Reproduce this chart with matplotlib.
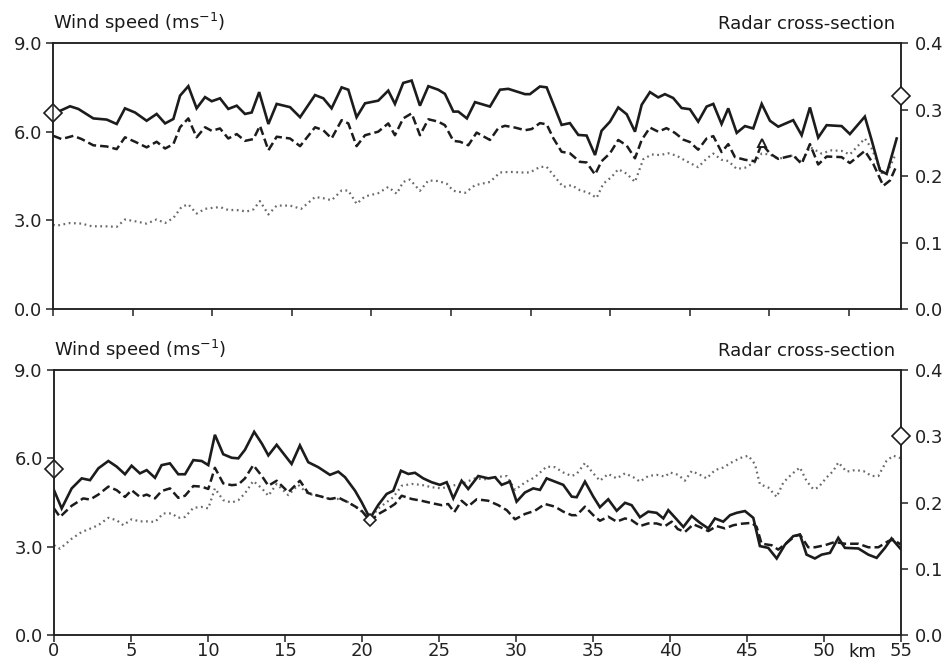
"""Wind speed / radar cross-section profiles along two flight tracks."""

import matplotlib
matplotlib.use('Agg')
import matplotlib.pyplot as plt

plt.rcParams.update({
    'font.family': ['DejaVu Sans'],
    'mathtext.fontset': 'dejavusans',
    'axes.edgecolor': '#222222',
    'axes.linewidth': 1.1,
    'xtick.color': '#222222',
    'ytick.color': '#222222',
    'text.color': '#1a1a1a',
})

INK = '#1c1c1c'
DOT = '#6a6a6a'
FS = 13

# ---- top panel (km, wind speed m/s) ----
top_solid_km = [0.0, 0.5, 1.07, 1.59, 2.53, 3.37, 4.0, 4.52, 5.15, 5.88, 6.51, 7.04, 7.56, 7.98, 8.5,
                9.02, 9.55, 9.97, 10.49, 11.01, 11.54, 12.06, 12.48, 12.95, 13.53, 14.05, 14.89, 15.52,
                16.46, 16.98, 17.5, 18.13, 18.55, 19.07, 19.6, 20.43, 21.06, 21.48, 22.0, 22.53, 23.05,
                23.58, 24.2, 24.62, 25.15, 25.46, 26.0, 26.51, 27.45, 28.08, 28.6, 29.65, 29.96, 30.59,
                31.01, 31.53, 31.95, 32.47, 33.0, 33.52, 34.05, 34.46, 34.99, 35.51, 36.04, 36.56, 36.98,
                37.5, 38.02, 38.44, 38.96, 39.49, 40.01, 40.53, 41.06, 41.48, 42.0, 42.42, 42.95, 43.47,
                43.99, 44.52, 45.04, 45.56, 46.5, 47.03, 47.55, 48.07, 48.6, 49.54, 50.06, 51.0, 51.43,
                51.95, 52.37, 53.0]
top_solid = [6.62, 6.72, 6.86, 6.77, 6.45, 6.41, 6.26, 6.79, 6.65, 6.37, 6.60, 6.28, 6.43, 7.22, 7.54,
             6.79, 7.17, 7.03, 7.13, 6.77, 6.88, 6.60, 6.65, 7.34, 6.26, 6.94, 6.83, 6.49,
             7.24, 7.13, 6.79, 7.50, 7.42, 6.49, 6.96, 7.05, 7.39, 6.94, 7.65, 7.73, 6.88,
             7.54, 7.42, 7.28, 6.68, 6.68, 6.45, 7.00, 6.85, 7.42, 7.45, 7.27, 7.27, 7.53,
             7.50, 6.80, 6.23, 6.29, 5.89, 5.87, 5.21, 6.03, 6.34, 6.82, 6.59, 6.00, 6.91,
             7.34, 7.16, 7.27, 7.14, 6.80, 6.76, 6.34, 6.85, 6.94, 6.26, 6.79, 5.96, 6.19,
             6.11, 6.94, 6.37, 6.17, 6.39, 5.88, 6.82, 5.80, 6.22, 6.19, 5.92, 6.51, 5.71,
             4.69, 4.57, 5.77]

top_dash_km = [0.02, 0.54, 1.28, 1.8, 2.53, 3.37, 4.0, 4.52, 5.15, 5.88, 6.51, 7.04, 7.56, 7.98, 8.5,
               9.02, 9.55, 9.97, 10.49, 11.01, 11.54, 12.06, 12.59, 13.0, 13.53, 14.05, 14.89, 15.52,
               16.46, 16.98, 17.5, 18.13, 18.55, 19.07, 19.6, 20.43, 21.06, 21.48, 22.0, 22.53, 23.05,
               23.58, 24.2, 24.62, 25.15, 25.57, 26.09, 26.61, 27.45, 27.97, 28.39, 29.02, 29.65, 30.07,
               30.59, 31.01, 31.43, 31.95, 32.47, 33.1, 33.52, 34.05, 34.46, 34.99, 35.51, 36.04, 36.56,
               36.98, 37.5, 38.02, 38.54, 39.07, 39.6, 40.01, 40.53, 41.06, 41.48, 42.0, 42.42, 42.84,
               43.47, 44.1, 44.52, 45.04, 45.56, 46.5, 47.03, 47.55, 48.07, 48.6, 49.54, 50.06, 51.0,
               51.53, 52.16, 52.58, 53.0]
top_dash = [5.86, 5.75, 5.86, 5.75, 5.54, 5.50, 5.41, 5.81, 5.66, 5.47, 5.66, 5.43, 5.58, 6.15, 6.45,
            5.81, 6.15, 6.03, 6.11, 5.77, 5.92, 5.69, 5.75, 6.20, 5.37, 5.83, 5.77, 5.51,
            6.15, 6.05, 5.77, 6.39, 6.28, 5.51, 5.88, 6.00, 6.28, 5.88, 6.45, 6.62, 5.88,
            6.42, 6.34, 6.22, 5.69, 5.66, 5.54, 5.97, 5.72, 6.12, 6.20, 6.14, 6.05, 6.09,
            6.29, 6.25, 5.78, 5.32, 5.27, 4.98, 4.96, 4.55, 5.00, 5.27, 5.72, 5.53, 5.10,
            5.72, 6.14, 6.00, 6.12, 5.96, 5.73, 5.65, 5.39, 5.77, 5.85, 5.31, 5.58, 5.14,
            5.05, 5.00, 5.60, 5.26, 5.08, 5.20, 4.91, 5.58, 4.89, 5.16, 5.14, 4.94, 5.35,
            4.91, 4.17, 4.35, 4.86]

top_dot_km = [0.0, 0.23, 1.07, 1.8, 2.43, 3.27, 4.0, 4.52, 5.15, 5.88, 6.51, 7.04, 7.56, 8.08, 8.5,
              9.02, 9.55, 9.97, 10.49, 11.01, 11.54, 12.17, 12.59, 13.0, 13.53, 14.05, 14.89, 15.59,
              16.46, 16.98, 17.5, 18.13, 18.55, 19.07, 19.6, 20.43, 21.06, 21.59, 22.0, 22.42, 23.05,
              23.58, 24.2, 24.73, 25.15, 25.88, 26.51, 27.45, 28.08, 28.71, 29.44, 29.96, 30.59, 31.01,
              31.53, 32.05, 32.58, 33.1, 33.62, 34.15, 34.57, 35.09, 35.51, 36.04, 36.56, 37.08, 37.61,
              38.13, 38.65, 39.17, 39.66, 40.01, 40.53, 41.06, 41.48, 42.0, 42.42, 42.95, 43.47, 44.1,
              44.52, 45.04, 45.56, 46.5, 47.03, 47.55, 48.28, 48.91, 49.54, 50.06, 51.0, 51.43, 52.06,
              52.48, 52.9]
top_dot = [2.85, 2.82, 2.91, 2.89, 2.80, 2.80, 2.78, 3.03, 2.97, 2.89, 3.03, 2.91, 3.08, 3.46, 3.54,
           3.23, 3.39, 3.42, 3.45, 3.35, 3.35, 3.30, 3.37, 3.65, 3.20, 3.50, 3.50, 3.39,
           3.79, 3.75, 3.68, 4.01, 4.01, 3.56, 3.81, 3.92, 4.13, 3.90, 4.30, 4.38, 4.00,
           4.35, 4.33, 4.24, 4.00, 3.93, 4.19, 4.30, 4.62, 4.64, 4.62, 4.62, 4.81, 4.81,
           4.47, 4.13, 4.19, 4.02, 3.94, 3.76, 4.24, 4.47, 4.73, 4.58, 4.30, 5.07, 5.23,
           5.21, 5.27, 5.19, 5.04, 4.94, 4.80, 5.09, 5.26, 5.05, 5.01, 4.74, 4.78, 4.97,
           5.26, 5.23, 5.08, 5.20, 4.97, 5.48, 5.26, 5.37, 5.35, 5.23, 5.77, 5.43, 4.60,
           4.69, 5.20]

# ---- bottom panel (km, wind speed m/s) ----
bot_solid_km = [0.0, 0.5, 1.15, 1.8, 2.34, 2.88, 3.53, 4.07, 4.61, 5.04, 5.58, 6.02, 6.56, 6.99, 7.53,
                8.07, 8.51, 9.05, 9.59, 10.02, 10.45, 10.99, 11.54, 11.97, 12.4, 13.0, 13.5, 13.92,
                14.46, 15.43, 15.97, 16.51, 17.16, 17.92, 18.46, 18.9, 19.55, 19.98, 20.52, 21.06, 21.6,
                22.03, 22.53, 23.01, 23.44, 23.98, 24.52, 25.06, 25.5, 25.93, 26.47, 26.9, 27.55, 28.2,
                28.64, 29.07, 29.61, 30.04, 30.58, 31.12, 31.56, 31.99, 32.53, 33.07, 33.62, 33.94, 34.48,
                35.02, 35.45, 35.99, 36.54, 37.08, 37.51, 38.05, 38.59, 39.13, 39.57, 39.89, 40.43, 40.87,
                41.41, 41.95, 42.49, 42.92, 43.46, 43.9, 44.33, 44.87, 45.41, 45.84, 46.38, 46.93, 47.47,
                48.01, 48.44, 48.87, 49.41, 49.85, 50.39, 50.93, 51.36, 52.23, 52.88, 53.42, 53.96, 54.39,
                55.0]
bot_solid = [4.92, 4.30, 4.98, 5.32, 5.26, 5.66, 5.91, 5.72, 5.46, 5.75, 5.49, 5.60, 5.34, 5.77, 5.83,
             5.46, 5.46, 5.94, 5.91, 5.77, 6.80, 6.14, 6.02, 6.00, 6.29, 6.90, 6.50, 6.10,
             6.46, 5.81, 6.44, 5.87, 5.70, 5.44, 5.55, 5.36, 4.90, 4.51, 3.96, 4.42, 4.79,
             4.90, 5.58, 5.47, 5.51, 5.32, 5.19, 5.10, 5.19, 4.64, 5.24, 4.96, 5.40, 5.32,
             5.36, 5.10, 5.21, 4.53, 4.84, 4.98, 4.93, 5.32, 5.21, 5.10, 4.70, 4.68, 5.21,
             4.70, 4.34, 4.61, 4.22, 4.49, 4.41, 4.00, 4.19, 4.15, 3.96, 4.24, 3.93, 3.67,
             4.04, 3.81, 3.62, 3.96, 3.85, 4.07, 4.15, 4.21, 3.98, 3.02, 2.96, 2.60, 3.07,
             3.36, 3.41, 2.73, 2.60, 2.73, 2.79, 3.30, 2.96, 2.94, 2.73, 2.62, 2.96, 3.28,
             2.91]

bot_dash_km = [0.0, 0.39, 1.15, 1.9, 2.34, 2.88, 3.53, 4.07, 4.61, 5.04, 5.58, 6.02, 6.56, 6.99, 7.53,
               8.07, 8.51, 9.05, 9.59, 10.02, 10.45, 10.99, 11.54, 11.97, 12.4, 12.94, 13.5, 13.92,
               14.46, 15.22, 15.97, 16.51, 17.16, 17.92, 18.46, 19.0, 19.55, 19.98, 20.52, 21.17, 21.71,
               22.14, 22.58, 23.23, 23.87, 24.52, 25.17, 25.6, 25.99, 26.47, 26.9, 27.45, 28.2, 28.85,
               29.4, 29.94, 30.58, 31.23, 31.88, 32.53, 33.07, 33.62, 33.94, 34.48, 35.02, 35.45, 35.99,
               36.54, 37.08, 37.51, 38.05, 38.59, 39.13, 39.68, 40.11, 40.5, 40.97, 41.52, 42.06, 42.49,
               43.03, 43.57, 44.12, 44.66, 45.31, 45.63, 45.95, 46.6, 47.03, 47.58, 48.12, 48.44, 48.98,
               49.41, 50.06, 50.71, 51.36, 52.23, 52.88, 53.53, 54.18, 54.5, 55.0]
bot_dash = [4.30, 4.01, 4.39, 4.64, 4.60, 4.77, 5.04, 4.92, 4.69, 4.92, 4.69, 4.77, 4.64, 4.89, 4.98,
            4.66, 4.73, 5.06, 5.04, 4.96, 5.68, 5.15, 5.09, 5.11, 5.32, 5.77, 5.40, 5.07,
            5.24, 4.85, 5.24, 4.82, 4.73, 4.62, 4.67, 4.53, 4.37, 4.22, 3.88, 4.14, 4.30,
            4.45, 4.73, 4.62, 4.56, 4.48, 4.41, 4.45, 4.17, 4.56, 4.37, 4.61, 4.56, 4.41,
            4.24, 3.93, 4.11, 4.22, 4.45, 4.36, 4.19, 4.07, 4.07, 4.36, 4.07, 3.88, 4.02,
            3.85, 3.96, 3.90, 3.70, 3.79, 3.79, 3.70, 3.85, 3.60, 3.50, 3.76, 3.64, 3.53,
            3.70, 3.62, 3.73, 3.78, 3.81, 3.67, 3.10, 3.05, 2.90, 3.13, 3.36, 3.41, 2.98,
            2.98, 3.05, 3.16, 3.10, 3.10, 2.98, 2.98, 3.19, 3.24, 3.07]

bot_dot_km = [0.0, 0.39, 1.15, 1.8, 2.34, 2.88, 3.53, 4.07, 4.5, 5.04, 5.58, 6.02, 6.56, 7.1, 7.64,
              8.07, 8.51, 9.05, 9.59, 10.02, 10.45, 10.99, 11.54, 11.97, 12.4, 12.94, 13.5, 13.92,
              14.46, 15.22, 15.86, 16.51, 17.16, 17.92, 18.57, 19.11, 19.55, 19.98, 20.52, 21.06, 21.6,
              22.03, 22.58, 23.23, 23.87, 24.52, 25.17, 25.82, 26.47, 27.34, 27.99, 28.64, 29.4, 29.94,
              30.58, 31.23, 31.99, 32.53, 33.07, 33.62, 33.94, 34.48, 35.02, 35.45, 35.99, 36.54, 37.08,
              37.62, 38.05, 38.59, 39.13, 39.68, 40.0, 40.54, 40.97, 41.41, 41.95, 42.38, 42.92, 43.46,
              44.0, 44.55, 45.09, 45.52, 45.84, 46.38, 46.93, 47.36, 47.9, 48.44, 48.87, 49.31, 49.63,
              50.17, 50.6, 50.93, 51.47, 52.01, 52.56, 53.1, 53.53, 54.07, 54.5, 54.94]
bot_dot = [3.05, 2.93, 3.27, 3.50, 3.61, 3.73, 3.98, 3.90, 3.73, 3.93, 3.86, 3.86, 3.84, 4.13, 4.13,
           3.98, 4.01, 4.32, 4.35, 4.30, 4.98, 4.58, 4.50, 4.58, 4.81, 5.23, 4.98, 4.73,
           5.13, 4.75, 5.10, 4.79, 4.73, 4.62, 4.62, 4.51, 4.37, 4.19, 3.94, 4.30, 4.51,
           4.68, 5.07, 5.13, 5.10, 5.02, 4.98, 5.07, 5.13, 5.32, 5.29, 5.36, 5.40, 4.93,
           5.18, 5.36, 5.72, 5.70, 5.52, 5.40, 5.47, 5.84, 5.49, 5.24, 5.47, 5.32, 5.49,
           5.36, 5.21, 5.40, 5.44, 5.38, 5.52, 5.44, 5.24, 5.57, 5.44, 5.32, 5.60, 5.69,
           5.86, 6.01, 6.09, 5.80, 5.12, 5.01, 4.69, 5.18, 5.46, 5.69, 5.23, 4.95, 5.01,
           5.35, 5.57, 5.86, 5.55, 5.60, 5.57, 5.40, 5.40, 5.92, 6.09, 6.01]

# calibration markers: (km, wind) on the left scale, (km, radar) on the right scale
top_diamond_wind = (0.0, 6.62)
top_diamond_radar = (53.27, 0.32)
top_triangle = (44.52, 5.62)
bot_diamond_wind = [(0.0, 5.65), (20.55, 3.9)]
bot_diamond_radar = (55.0, 0.30)

WIND_TICKS = [0.0, 3.0, 6.0, 9.0]
RADAR_TICKS = [0.0, 0.1, 0.2, 0.3, 0.4]
KM_TICKS = list(range(0, 56, 5))


def _style(ax, xmax, labels):
    ax.set_xlim(0, xmax)
    ax.set_ylim(0, 9)
    ax.set_yticks(WIND_TICKS)
    ax.set_yticklabels([f'{v:.1f}' for v in WIND_TICKS], fontsize=FS)
    ax.set_xticks([t for t in KM_TICKS if t <= xmax])
    if labels:
        ax.set_xticklabels([str(t) for t in KM_TICKS if t <= xmax], fontsize=FS)
    else:
        ax.set_xticklabels([])
    ax.tick_params(direction='out', length=5, width=1.1, pad=3)
    ax.tick_params(axis='x', pad=0)
    ax.annotate(r'Wind speed (ms$^{\mathrm{-1}}$)', xy=(0, 1), xycoords='axes fraction',
                xytext=(0, 10), textcoords='offset points', ha='left', va='baseline',
                fontsize=FS)
    ax.annotate('Radar cross-section', xy=(1, 1), xycoords='axes fraction',
                xytext=(-4, 10), textcoords='offset points', ha='right', va='baseline',
                fontsize=FS)
    tw = ax.twinx()
    tw.set_ylim(0, 0.4)
    tw.set_yticks(RADAR_TICKS)
    tw.set_yticklabels([f'{v:.1f}' for v in RADAR_TICKS], fontsize=FS)
    tw.tick_params(direction='out', length=5, width=1.1, pad=5)
    return tw


def _lines(ax, s_km, s, d_km, d, p_km, p):
    ax.plot(s_km, s, color=INK, lw=1.9, solid_joinstyle='miter', zorder=4)
    ax.plot(d_km, d, color=INK, lw=1.8, linestyle=(0, (3.4, 1.6)), zorder=3)
    ax.plot(p_km, p, color=DOT, lw=1.6, linestyle=(0, (0.8, 1.6)), zorder=2)


fig = plt.figure(figsize=(9.52, 6.63), dpi=100, facecolor='white')
ax1 = fig.add_axes([0.0557, 0.5339, 0.8907, 0.4012])
ax2 = fig.add_axes([0.0567, 0.0422, 0.8897, 0.3997])

_lines(ax1, top_solid_km, top_solid, top_dash_km, top_dash, top_dot_km, top_dot)
tw1 = _style(ax1, 53.27, labels=False)
ax1.plot(*top_diamond_wind, marker='D', ms=9, mfc='white', mec=INK, mew=1.2, clip_on=False, zorder=6)
ax1.plot(*top_triangle, marker='^', ms=6, mfc='white', mec=INK, mew=1.4, zorder=6)
tw1.plot(*top_diamond_radar, marker='D', ms=9, mfc='white', mec=INK, mew=1.2, clip_on=False, zorder=6)

_lines(ax2, bot_solid_km, bot_solid, bot_dash_km, bot_dash, bot_dot_km, bot_dot)
tw2 = _style(ax2, 55.0, labels=True)
for km, w in bot_diamond_wind:
    size = 9 if km == 0 else 6
    ax2.plot(km, w, marker='D', ms=size, mfc='white', mec=INK, mew=1.2, clip_on=False, zorder=6)
tw2.plot(*bot_diamond_radar, marker='D', ms=9, mfc='white', mec=INK, mew=1.2, clip_on=False, zorder=6)
ax2.annotate('km', xy=(52.5, 0), xycoords='data', xytext=(0, -6), textcoords='offset points',
             ha='center', va='top', fontsize=FS)

fig.savefig('out.png', dpi=100, facecolor='white')
